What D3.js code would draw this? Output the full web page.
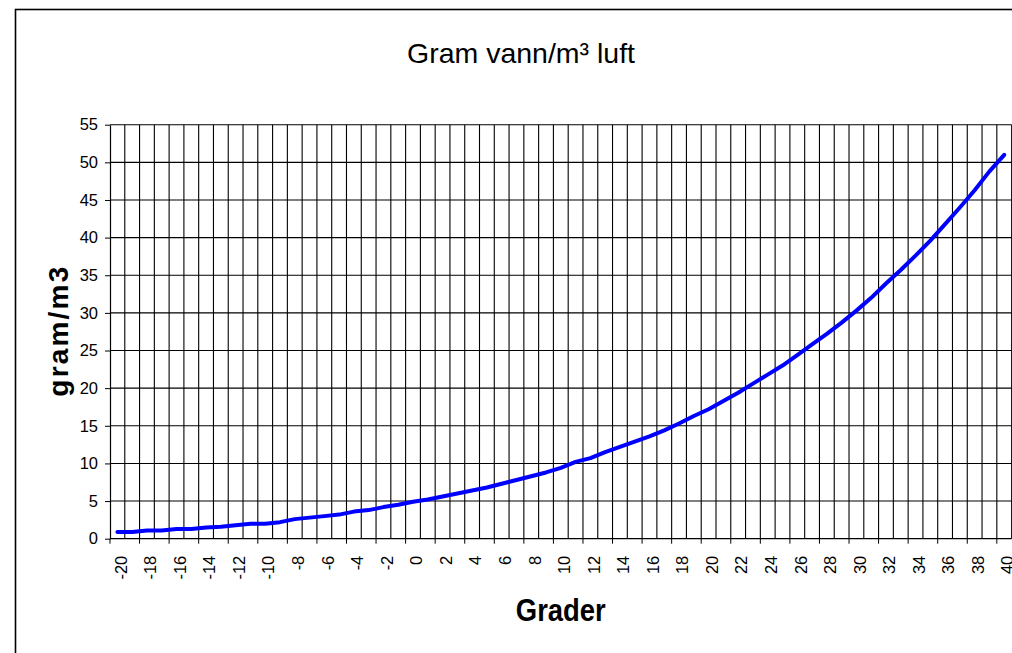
<!DOCTYPE html>
<html>
<head>
<meta charset="utf-8">
<script src="https://cdn.jsdelivr.net/npm/d3@7/dist/d3.min.js"></script>
<style>
    body { margin: 0; background: #ffffff; }
    svg text { font-family: "Liberation Sans", Arial, sans-serif; fill: #000; }
</style>
</head>
<body>
<svg id="chart"></svg>
<script>
// temperature categories (grader)
const grader = [-20, -19, -18, -17, -16, -15, -14, -13, -12, -11, -10, -9, -8, -7, -6, -5, -4, -3, -2, -1,
    0, 1, 2, 3, 4, 5, 6, 7, 8, 9, 10, 11, 12, 13, 14, 15, 16, 17, 18, 19, 20,
    21, 22, 23, 24, 25, 26, 27, 28, 29, 30, 31, 32, 33, 34, 35, 36, 37, 38, 39, 40];

// gram water per m3 air
const gram = [0.9, 0.9, 1.1, 1.1, 1.3, 1.3, 1.5, 1.6, 1.8, 2.0, 2.0, 2.2, 2.6, 2.8, 3.0, 3.2, 3.6, 3.8, 4.2, 4.5,
    4.9, 5.2, 5.6, 6.0, 6.4, 6.8, 7.3, 7.8, 8.3, 8.8, 9.4, 10.2, 10.7, 11.5, 12.2, 12.9, 13.6, 14.4, 15.3, 16.3, 17.2,
    18.3, 19.4, 20.6, 21.8, 23.0, 24.4, 25.8, 27.2, 28.7, 30.3, 32.0, 33.9, 35.7, 37.6, 39.6, 41.8, 44.0, 46.3, 48.8, 51.0];

// labelled categories on the x axis
const xLabels = [-20, -18, -16, -14, -12, -10, -8, -6, -4, -2, 0, 2, 4, 6, 8, 10,
    12, 14, 16, 18, 20, 22, 24, 26, 28, 30, 32, 34, 36, 38, 40];

// tick values on the y axis
const yTicks = [0, 5, 10, 15, 20, 25, 30, 35, 40, 45, 50, 55];

// texts
const chartTitle = "Gram vann/m\u00b3 luft";
const xTitle = "Grader";
const yTitle = "gram/m3";

// canvas
const canvWidth = 1012;
const canvHeight = 653;

// plot area
const plot = { left: 110, right: 1011.6, top: 124.7, bottom: 538.7 };

const svg = d3.select("#chart")
    .attr("width", canvWidth)
    .attr("height", canvHeight);

// chart area border (runs off the right and bottom edge)
svg.append("rect")
    .attr("x", 15.5)
    .attr("y", 9.5)
    .attr("width", 1100)
    .attr("height", 700)
    .attr("fill", "#fff")
    .attr("stroke", "#000")
    .attr("stroke-width", 1.6);

// scales
const x = d3.scaleBand()
    .domain(grader)
    .range([plot.left, plot.right])
    .padding(0);

const y = d3.scaleLinear()
    .domain([0, 55])
    .range([plot.bottom, plot.top]);

// horizontal gridlines
svg.append("g")
    .selectAll("line")
    .data(yTicks.slice(1))
    .enter().append("line")
    .attr("x1", plot.left)
    .attr("x2", plot.right)
    .attr("y1", function (d) { return y(d); })
    .attr("y2", function (d) { return y(d); })
    .attr("stroke", "#000")
    .attr("stroke-width", 1.1);

// vertical gridlines on every category boundary
svg.append("g")
    .selectAll("line")
    .data(grader.slice(1))
    .enter().append("line")
    .attr("x1", function (d) { return x(d); })
    .attr("x2", function (d) { return x(d); })
    .attr("y1", plot.top)
    .attr("y2", plot.bottom)
    .attr("stroke", "#000")
    .attr("stroke-width", 1.1);

svg.append("line")
    .attr("x1", plot.right).attr("x2", plot.right)
    .attr("y1", plot.top).attr("y2", plot.bottom)
    .attr("stroke", "#000");

// y axis
const yAxis = svg.append("g")
    .attr("transform", "translate(" + plot.left + ",0)")
    .call(d3.axisLeft(y).tickValues(yTicks).tickSize(5).tickSizeOuter(0).tickPadding(7));

yAxis.select(".domain").attr("stroke", "#000").attr("stroke-width", 1.2);
yAxis.selectAll(".tick line").attr("stroke", "#000");
yAxis.selectAll(".tick text")
    .style("font-size", "16.5px")
    .attr("font-family", null);

// x axis: labels in the middle of a category, ticks on every second boundary
const xAxis = svg.append("g")
    .attr("transform", "translate(0," + plot.bottom + ")")
    .call(d3.axisBottom(x).tickValues(xLabels).tickSize(5).tickSizeOuter(0));

xAxis.select(".domain")
    .attr("d", "M" + plot.left + ",0H" + plot.right)
    .attr("stroke", "#000")
    .attr("stroke-width", 1.2);

xAxis.selectAll(".tick line")
    .attr("x1", -x.bandwidth() / 2)
    .attr("x2", -x.bandwidth() / 2)
    .attr("stroke", "#000");

xAxis.selectAll(".tick text")
    .attr("transform", "rotate(-90)")
    .attr("text-anchor", "end")
    .attr("x", -17)
    .attr("y", 3.5)
    .attr("dy", "0.35em")
    .style("font-size", "16.5px");

// data line
const line = d3.line()
    .x(function (d, i) { return x(grader[i]) + x.bandwidth() / 2; })
    .y(function (d) { return y(d); });

svg.append("path")
    .datum(gram)
    .attr("d", line)
    .attr("fill", "none")
    .attr("stroke", "#0000ff")
    .attr("stroke-width", 4)
    .attr("stroke-linejoin", "round")
    .attr("stroke-linecap", "round");

// chart title
svg.append("text")
    .attr("x", 521)
    .attr("y", 63)
    .attr("text-anchor", "middle")
    .style("font-size", "28.5px")
    .text(chartTitle);

// x axis title
svg.append("text")
    .attr("x", (plot.left + plot.right) / 2)
    .attr("y", 621)
    .attr("text-anchor", "middle")
    .attr("textLength", 90)
    .attr("lengthAdjust", "spacingAndGlyphs")
    .style("font-size", "32px")
    .style("font-weight", "bold")
    .text(xTitle);

// y axis title
svg.append("text")
    .attr("transform", "translate(68," + ((plot.top + plot.bottom) / 2) + ") rotate(-90)")
    .attr("text-anchor", "middle")
    .attr("textLength", 130)
    .attr("lengthAdjust", "spacing")
    .style("font-size", "28px")
    .style("font-weight", "bold")
    .text(yTitle);
</script>
</body>
</html>
